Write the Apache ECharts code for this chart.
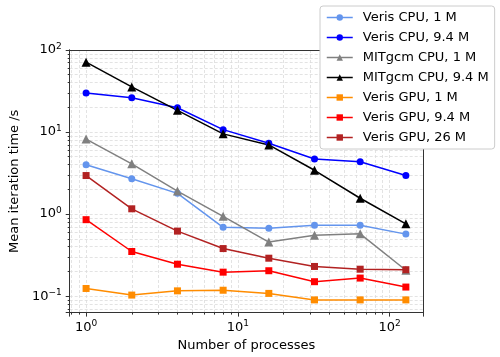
<!DOCTYPE html>
<html><head><meta charset="utf-8">
<script src="https://cdn.jsdelivr.net/npm/echarts@6/dist/echarts.min.js"></script>
<style>html,body{margin:0;padding:0;background:#fff}#c{width:500px;height:357px}</style>
</head><body><div id="c"></div>
<script>
const procs = [1, 2, 4, 8, 16, 32, 64, 128];
const verisCpu1M   = [4.0, 2.7, 1.79, 0.69, 0.67, 0.73, 0.73, 0.57];
const verisCpu94M  = [30, 26.2, 19.8, 10.7, 7.3, 4.7, 4.35, 2.95];
const mitgcmCpu1M  = [8.2, 4.1, 1.91, 0.94, 0.456, 0.553, 0.574, 0.207];
const mitgcmCpu94M = [71, 35.5, 18.4, 9.5, 6.97, 3.42, 1.56, 0.76];
const verisGpu1M   = [0.124, 0.103, 0.116, 0.118, 0.108, 0.090, 0.090, 0.090];
const verisGpu94M  = [0.855, 0.35, 0.245, 0.196, 0.204, 0.15, 0.166, 0.129];
const verisGpu26M  = [2.95, 1.16, 0.62, 0.38, 0.29, 0.23, 0.213, 0.21];
const seriesNames = ['Veris CPU, 1 M','Veris CPU, 9.4 M','MITgcm CPU, 1 M','MITgcm CPU, 9.4 M','Veris GPU, 1 M','Veris GPU, 9.4 M','Veris GPU, 26 M'];
const seriesValues = [verisCpu1M, verisCpu94M, mitgcmCpu1M, mitgcmCpu94M, verisGpu1M, verisGpu94M, verisGpu26M];
const seriesColors = ['#6495ED','#0000FF','#808080','#000000','#FF8C00','#FF0000','#B22222'];
const seriesSymbols = ['circle','circle','triangle','triangle','rect','rect','rect'];
const xMin = 0.78, xMax = 166, yMin = 0.063, yMax = 100;

const FONT = 'DejaVu Sans';
function fmt(v){
  const l = Math.log10(v); const e = Math.round(l);
  if (Math.abs(l - e) > 1e-6) return '';
  const s = e < 0 ? '\u2212' + (-e) : '' + e;
  return '{b|10}{s|' + s + '}';
}
const rich = {b:{fontSize:13, fontFamily:FONT, color:'#000', lineHeight:16}, s:{fontSize:9, fontFamily:FONT, color:'#000', verticalAlign:'top', lineHeight:16}};
const gridStyle = {color:'#dcdcdc', width:0.8, type:[3,2]};
const borderAxis = {type:'value', min:0, max:1, z:5, silent:true,
  axisLine:{show:true, onZero:false, lineStyle:{color:'#333', width:1}},
  axisTick:{show:false}, axisLabel:{show:false}, splitLine:{show:false}};

const series = [];
seriesNames.forEach((n, i) => {
  series.push({
    type:'line', name:n, z:2, xAxisIndex:0, yAxisIndex:0,
    data: procs.map((p, j) => [p, seriesValues[i][j]]),
    symbol: seriesSymbols[i],
    symbolSize: seriesSymbols[i] === 'triangle' ? 9 : 7,
    itemStyle:{color:seriesColors[i]},
    lineStyle:{color:seriesColors[i], width:1.5, type:'solid'},
    animation:false
  });
});

const chart = echarts.init(document.getElementById('c'), null, {renderer:'canvas'});
chart.setOption({
  backgroundColor:'#fff',
  animation:false,
  grid:{left:58, top:50, right:77, bottom:42, show:false},
  xAxis:[{type:'log', logBase:10, min:xMin, max:xMax, position:'bottom',
    name:'Number of processes', nameLocation:'middle', nameGap:22,
    nameTextStyle:{fontSize:13, fontFamily:FONT, color:'#000'},
    axisLine:{show:true, onZero:false, lineStyle:{color:'#333'}},
    axisTick:{show:true, length:4, lineStyle:{color:'#333'}},
    minorTick:{show:true, splitNumber:9, length:2, lineStyle:{color:'#333'}},
    minorSplitLine:{show:true, lineStyle:gridStyle},
    axisLabel:{formatter:fmt, rich:rich, margin:7, showMinLabel:false, showMaxLabel:false},
    splitLine:{show:true, lineStyle:gridStyle}},
    Object.assign({position:'top'}, borderAxis),
    Object.assign({position:'bottom'}, borderAxis)],
  yAxis:[{type:'log', logBase:10, min:yMin, max:yMax, position:'left',
    name:'Mean iteration time /s', nameLocation:'middle', nameGap:43,
    nameTextStyle:{fontSize:13, fontFamily:FONT, color:'#000'},
    axisLine:{show:true, onZero:false, lineStyle:{color:'#333'}},
    axisTick:{show:true, length:4, lineStyle:{color:'#333'}},
    minorTick:{show:true, splitNumber:9, length:2, lineStyle:{color:'#333'}},
    minorSplitLine:{show:true, lineStyle:gridStyle},
    axisLabel:{formatter:fmt, rich:rich, margin:8, showMinLabel:false},
    splitLine:{show:true, lineStyle:gridStyle}},
    Object.assign({position:'right'}, borderAxis),
    Object.assign({position:'left'}, borderAxis)],
  legend:{data:seriesNames, orient:'vertical', left:320, top:6, z:20,
    backgroundColor:'#fff', borderColor:'#ccc', borderWidth:1, borderRadius:3,
    padding:[4,6,4,6], itemGap:5, itemWidth:26, itemHeight:8,
    lineStyle:{type:'solid', width:1.5},
    textStyle:{fontSize:13, fontFamily:FONT, color:'#000', padding:[0,0,0,5], lineHeight:15}},
  series:series
});
</script></body></html>
